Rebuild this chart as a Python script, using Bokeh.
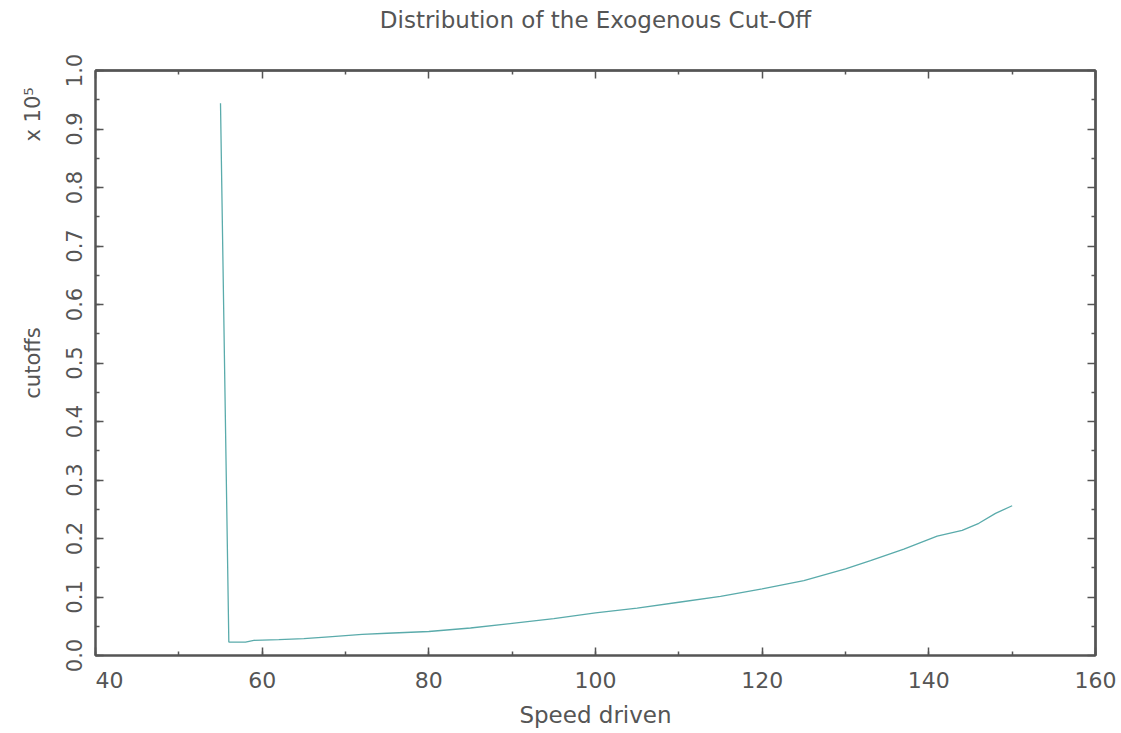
import math
from bokeh.plotting import figure
from bokeh.models import (LinearAxis, SingleIntervalTicker, FixedTicker, NumeralTickFormatter,
                          Range1d)
from bokeh.embed import file_html
from bokeh.resources import INLINE

# Data (cutoffs in units of 10^5)
speed = [55, 56, 58, 59, 62, 65, 68, 72, 75, 80, 85, 90, 95, 100, 105, 110,
         115, 120, 125, 130, 133, 137, 141, 144, 146, 148, 150]
cutoffs = [0.944, 0.023, 0.023, 0.026, 0.027, 0.029, 0.032, 0.036, 0.038, 0.041,
           0.047, 0.055, 0.063, 0.073, 0.081, 0.091, 0.101, 0.114, 0.128, 0.148,
           0.162, 0.182, 0.204, 0.214, 0.226, 0.243, 0.256]

# tick positions (for the unlabelled top / right frame ticks)
x_major = [40, 60, 80, 100, 120, 140, 160]
x_minor = [50, 70, 90, 110, 130, 150]
y_major = [0.0, 0.1, 0.2, 0.3, 0.4, 0.5, 0.6, 0.7, 0.8, 0.9, 1.0]
y_minor = [0.05, 0.15, 0.25, 0.35, 0.45, 0.55, 0.65, 0.75, 0.85, 0.95]

title_text = "Distribution of the Exogenous Cut-Off"
x_label = "Speed driven"
y_label = "cutoffs"
scale_text = "x 10\u2075"
y_label_pos = 0.5
scale_pos = 0.925

FONT = "DejaVu Sans"
TXT = "#555555"
AX = "#555555"

p = figure(width=1120, height=732, output_backend="svg", toolbar_location=None,
           x_range=Range1d(40, 160), y_range=Range1d(0, 1.0),
           min_border_left=95, min_border_right=25, min_border_top=70, min_border_bottom=77,
           background_fill_color="white", border_fill_color="white")

p.grid.visible = False
p.outline_line_color = AX
p.outline_line_width = 2

def style(ax):
    ax.axis_line_color = AX
    ax.axis_line_width = 2
    ax.major_tick_in = 8
    ax.major_tick_out = 0
    ax.minor_tick_in = 4
    ax.minor_tick_out = 0
    ax.major_tick_line_color = AX
    ax.minor_tick_line_color = AX
    ax.major_tick_line_width = 1.5
    ax.minor_tick_line_width = 1.5
    ax.major_label_text_font = FONT
    ax.major_label_text_color = TXT
    ax.axis_label_text_font = FONT
    ax.axis_label_text_color = TXT
    ax.axis_label_text_font_style = "normal"

def tick_only_axis(positions, length, side, label=None):
    ax = LinearAxis(ticker=FixedTicker(ticks=[], minor_ticks=positions))
    style(ax)
    ax.minor_tick_in = length
    ax.major_label_standoff = 0
    if label:
        ax.axis_label = label
    p.add_layout(ax, side)
    return ax

xa = p.xaxis[0]
xa.ticker = SingleIntervalTicker(interval=20, num_minor_ticks=2)
style(xa)
xa.major_label_text_font_size = "22px"
xa.major_label_standoff = 12
xa.major_label_overrides = {40: "\u2007\u200740"}
xa.axis_label = x_label
xa.axis_label_text_font_size = "23px"
xa.axis_label_standoff = 6

ya = p.yaxis[0]
ya.ticker = SingleIntervalTicker(interval=0.1, num_minor_ticks=2)
ya.formatter = NumeralTickFormatter(format="0.0")
style(ya)
ya.major_label_orientation = "parallel"
ya.major_label_text_font_size = "21px"
ya.major_label_standoff = 14

# second left axis carrying the axis title and the scale factor at their own heights
ya2 = LinearAxis(ticker=FixedTicker(ticks=[y_label_pos, scale_pos], minor_ticks=[]),
                 major_label_overrides={y_label_pos: y_label, scale_pos: scale_text})
ya2.axis_line_color = None
ya2.major_tick_line_color = None
ya2.minor_tick_line_color = None
ya2.major_label_orientation = "parallel"
ya2.major_label_text_font = FONT
ya2.major_label_text_font_size = "21px"
ya2.major_label_text_color = TXT
ya2.major_label_standoff = 12
p.add_layout(ya2, "left")

# top: frame ticks, title as label
tick_only_axis(x_major, 8, "above")
top = tick_only_axis(x_minor, 4, "above", label=title_text)
top.axis_label_text_font_size = "23px"
top.axis_label_standoff = 38

# right: frame ticks
tick_only_axis(y_major, 8, "right")
tick_only_axis(y_minor, 4, "right")

p.line(speed, cutoffs, line_color="#5aabab", line_width=1.3)

open("out.html", "w").write(file_html(p, INLINE))
